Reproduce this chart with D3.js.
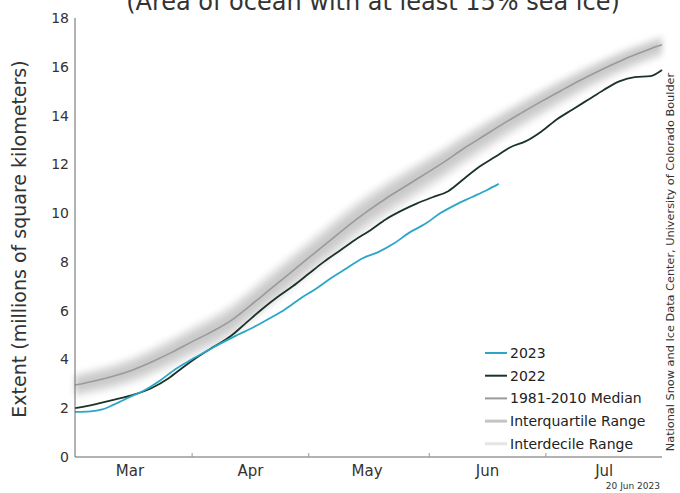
<!DOCTYPE html>
<html>
<head>
<meta charset="utf-8">
<script src="https://cdn.jsdelivr.net/npm/d3@7"></script>
<style>
  html, body { margin: 0; padding: 0; background: #fff; }
  svg { display: block; font-family: "DejaVu Sans", sans-serif; }
</style>
</head>
<body>
<svg id="chart" width="680" height="493"></svg>
<script>
// Climatology dates (every 5 days from 2 Mar through 31 Jul)
const climDates = ["03-02","03-07","03-12","03-17","03-22","03-27","04-01","04-06","04-11","04-16","04-21","04-26",
  "05-01","05-06","05-11","05-16","05-21","05-26","05-31","06-05","06-10","06-15","06-20","06-25","06-30",
  "07-05","07-10","07-15","07-20","07-25","07-30","07-31"];
const median   = [2.95,3.12,3.32,3.58,3.92,4.30,4.72,5.12,5.58,6.20,6.85,7.50,8.15,8.80,9.45,10.05,10.60,11.10,11.60,12.10,12.65,13.15,13.65,14.12,14.58,15.02,15.45,15.85,16.22,16.55,16.85,16.90];
const iqLow    = [2.67,2.84,3.03,3.28,3.61,3.98,4.39,4.78,5.23,5.84,6.48,7.12,7.77,8.41,9.06,9.66,10.21,10.71,11.22,11.72,12.27,12.78,13.29,13.77,14.24,14.69,15.13,15.54,15.92,16.26,16.57,16.62];
const iqHigh   = [3.22,3.40,3.61,3.88,4.24,4.64,5.07,5.48,5.95,6.58,7.24,7.90,8.56,9.21,9.86,10.46,11.00,11.49,11.98,12.47,13.00,13.49,13.98,14.44,14.89,15.31,15.72,16.11,16.47,16.79,17.08,17.13];
const idLow    = [2.45,2.62,2.80,3.04,3.36,3.72,4.11,4.49,4.93,5.53,6.16,6.79,7.43,8.07,8.72,9.33,9.88,10.40,10.91,11.42,11.98,12.50,13.02,13.51,13.99,14.45,14.90,15.32,15.71,16.06,16.38,16.44];
const idHigh   = [3.42,3.61,3.83,4.11,4.48,4.89,5.33,5.75,6.23,6.87,7.54,8.20,8.86,9.51,10.16,10.75,11.28,11.76,12.23,12.70,13.22,13.70,14.17,14.62,15.06,15.48,15.88,16.26,16.61,16.92,17.20,17.25];

// 2022 daily extent (sampled)
const dates2022 = ["03-02","03-06","03-10","03-14","03-18","03-22","03-26","03-30","04-03","04-07","04-11","04-15",
  "04-19","04-23","04-27","05-01","05-05","05-09","05-13","05-17","05-21","05-25","05-29","06-02","06-06","06-10",
  "06-14","06-18","06-22","06-26","06-30","07-04","07-08","07-12","07-16","07-20","07-24","07-28","07-31"];
const ext2022 = [2.00,2.12,2.27,2.42,2.60,2.85,3.22,3.70,4.15,4.55,4.95,5.50,6.05,6.55,7.00,7.50,8.00,8.45,8.90,9.30,
  9.75,10.10,10.40,10.65,10.90,11.40,11.90,12.30,12.70,12.95,13.35,13.85,14.25,14.65,15.05,15.40,15.58,15.62,15.87];

// 2023 daily extent (sampled, through 19 Jun)
const dates2023 = ["03-02","03-06","03-09","03-12","03-16","03-20","03-24","03-28","04-01","04-05","04-09","04-13",
  "04-17","04-21","04-25","04-29","05-03","05-07","05-11","05-15","05-19","05-23","05-27","05-31","06-04","06-08",
  "06-12","06-16","06-19"];
const ext2023 = [1.85,1.87,1.95,2.15,2.45,2.75,3.15,3.62,4.00,4.35,4.70,5.02,5.33,5.68,6.05,6.50,6.90,7.35,7.75,8.15,
  8.40,8.75,9.20,9.55,10.00,10.35,10.65,10.95,11.20];

const yTicks = [0,2,4,6,8,10,12,14,16,18];
const monthStarts = ["04-01","05-01","06-01","07-01"];
const monthLabelDates = ["03-16","04-16","05-16","06-16","07-16"];
const legendItems = [
  { label: "2023", key: "y2023" },
  { label: "2022", key: "y2022" },
  { label: "1981-2010 Median", key: "median" },
  { label: "Interquartile Range", key: "iq" },
  { label: "Interdecile Range", key: "id" }
];

const parse = s => d3.timeParse("%Y-%m-%d")("2023-" + s);

const svg = d3.select("#chart");
const plot = { left: 75, right: 662, top: 18, bottom: 457 };

const x = d3.scaleTime().domain([parse("03-02"), parse("07-31")]).range([plot.left, plot.right]);
const y = d3.scaleLinear().domain([0, 18]).range([plot.bottom, plot.top]);

const styles = {
  y2023: { stroke: "#2aa6c8", width: 1.8 },
  y2022: { stroke: "#1c3327", width: 1.8 },
  median: { stroke: "#9a9a9a", width: 1.6 },
  iq: { stroke: "#c4c4c4", width: 3 },
  id: { stroke: "#e4e4e4", width: 3 }
};

// soft edge for the climatology bands
const defs = svg.append("defs");
defs.append("filter").attr("id", "soft").attr("x", "-5%").attr("y", "-10%").attr("width", "110%").attr("height", "120%")
  .append("feGaussianBlur").attr("stdDeviation", 3);

const clim = climDates.map((d, i) => ({
  date: parse(d), med: median[i], iqL: iqLow[i], iqH: iqHigh[i], idL: idLow[i], idH: idHigh[i]
}));

const bands = svg.append("g").attr("filter", "url(#soft)");
bands.append("path")
  .datum(clim)
  .attr("fill", "#e2e2e2")
  .attr("d", d3.area().curve(d3.curveMonotoneX).x(d => x(d.date)).y0(d => y(d.idL)).y1(d => y(d.idH)));
bands.append("path")
  .datum(clim)
  .attr("fill", "#c9c9c9")
  .attr("d", d3.area().curve(d3.curveMonotoneX).x(d => x(d.date)).y0(d => y(d.iqL)).y1(d => y(d.iqH)));

const line = d3.line().curve(d3.curveMonotoneX).x(d => x(d.date)).y(d => y(d.v));

svg.append("path")
  .datum(clim.map(d => ({ date: d.date, v: d.med })))
  .attr("fill", "none")
  .attr("stroke", styles.median.stroke)
  .attr("stroke-width", styles.median.width)
  .attr("d", line);

svg.append("path")
  .datum(dates2022.map((d, i) => ({ date: parse(d), v: ext2022[i] })))
  .attr("fill", "none")
  .attr("stroke", styles.y2022.stroke)
  .attr("stroke-width", styles.y2022.width)
  .attr("d", line);

svg.append("path")
  .datum(dates2023.map((d, i) => ({ date: parse(d), v: ext2023[i] })))
  .attr("fill", "none")
  .attr("stroke", styles.y2023.stroke)
  .attr("stroke-width", styles.y2023.width)
  .attr("d", line);

// Y axis
const yAxis = svg.append("g")
  .attr("transform", `translate(${plot.left},0)`)
  .call(d3.axisLeft(y).tickValues(yTicks).tickSize(0).tickPadding(6));
yAxis.select(".domain").attr("stroke", "#666").attr("d", `M0,${plot.top}V${plot.bottom}`);
yAxis.selectAll("text").attr("font-size", 14).attr("fill", "#333").attr("font-family", "DejaVu Sans");

// X axis: month boundaries as small inner ticks, month names centred mid-month
const xAxis = svg.append("g")
  .attr("transform", `translate(0,${plot.bottom})`)
  .call(d3.axisBottom(x).tickValues(monthStarts.map(parse)).tickSize(-4).tickFormat(""));
xAxis.select(".domain").attr("stroke", "#666").attr("d", `M${plot.left},0H${plot.right}`);
xAxis.selectAll(".tick line").attr("stroke", "#999");

const xLabels = svg.append("g")
  .attr("transform", `translate(0,${plot.bottom})`)
  .call(d3.axisBottom(x).tickValues(monthLabelDates.map(parse)).tickSize(0).tickPadding(8).tickFormat(d3.timeFormat("%b")));
xLabels.select(".domain").remove();
xLabels.selectAll("text").attr("font-size", 15).attr("fill", "#333").attr("font-family", "DejaVu Sans");

// Y axis title
svg.append("text")
  .attr("transform", "translate(26,239) rotate(-90)")
  .attr("text-anchor", "middle")
  .attr("font-size", 19)
  .attr("fill", "#333")
  .text("Extent (millions of square kilometers)");

// Subtitle (runs off the top edge)
svg.append("text")
  .attr("x", 373).attr("y", 10)
  .attr("text-anchor", "middle")
  .attr("font-size", 24)
  .attr("fill", "#333")
  .text("(Area of ocean with at least 15% sea ice)");

// Credit and date
svg.append("text")
  .attr("transform", "translate(674,262) rotate(-90)")
  .attr("text-anchor", "middle")
  .attr("font-size", 11.3)
  .attr("fill", "#333")
  .text("National Snow and Ice Data Center, University of Colorado Boulder");

svg.append("text")
  .attr("x", 660).attr("y", 489)
  .attr("text-anchor", "end")
  .attr("font-size", 9)
  .attr("fill", "#333")
  .text("20 Jun 2023");

// Legend
const legend = svg.append("g").attr("transform", "translate(485,353)");
legendItems.forEach((item, i) => {
  const g = legend.append("g").attr("transform", `translate(0,${i * 22.7})`);
  g.append("line").attr("x1", 0).attr("x2", 22).attr("y1", 0).attr("y2", 0)
    .attr("stroke", styles[item.key].stroke).attr("stroke-width", item.key === "iq" || item.key === "id" ? 3 : 2);
  g.append("text").attr("x", 25).attr("y", 0).attr("dy", "0.35em")
    .attr("font-size", 14).attr("fill", "#222").text(item.label);
});
</script>
</body>
</html>
